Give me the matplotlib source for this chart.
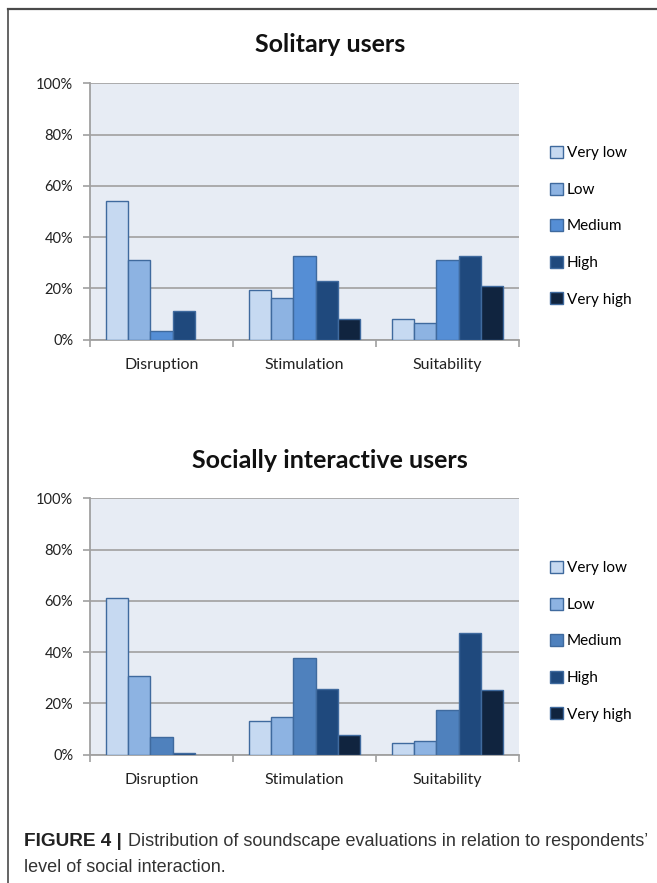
import matplotlib
matplotlib.use("Agg")
import matplotlib.pyplot as plt
from matplotlib.patches import Patch
from matplotlib.lines import Line2D
import numpy as np

categories = ["Disruption", "Stimulation", "Suitability"]
levels = ["Very low", "Low", "Medium", "High", "Very high"]

# percentages, one list per level, ordered like categories
solitary = {
    "Very low": [54, 19.5, 8.2],
    "Low": [31, 16.1, 6.5],
    "Medium": [3.4, 32.8, 31.1],
    "High": [11.3, 22.9, 32.8],
    "Very high": [0, 8.2, 21.1],
}
social = {
    "Very low": [61.1, 13.3, 4.6],
    "Low": [30.7, 14.8, 5.3],
    "Medium": [6.9, 37.7, 17.3],
    "High": [0.7, 25.7, 47.3],
    "Very high": [0, 7.8, 25.1],
}
titles = ["Solitary users", "Socially interactive users"]
yticks = [0, 20, 40, 60, 80, 100]
ytick_labels = ["0%", "20%", "40%", "60%", "80%", "100%"]

colors_top = ["#C6D9F1", "#8DB3E2", "#558ED5", "#1F497D", "#10243F"]
colors_bot = ["#C6D9F1", "#8DB3E2", "#4F81BD", "#1F497D", "#10243F"]
edge = "#3F6A9E"

W, H = 657, 883
fig = plt.figure(figsize=(W / 100, H / 100), dpi=100)
fig.patch.set_facecolor("white")

# frame lines
fig.add_artist(Line2D([7.5 / W, 1.0], [1 - 8.5 / H, 1 - 8.5 / H], color="#4a4a4a", lw=1.6))
fig.add_artist(Line2D([7.5 / W, 7.5 / W], [0, 1 - 8.5 / H], color="#4a4a4a", lw=1.2))

FONT = "Lato"

def make_panel(top_px, bot_px, data, colors, title, title_y, leg_top):
    ax = fig.add_axes([90 / W, 1 - bot_px / H, 429 / W, (bot_px - top_px) / H])
    ax.set_facecolor("#E7ECF4")
    x = np.arange(len(categories))
    w = 0.155
    for i, lev in enumerate(levels):
        vals = data[lev]
        lws = [1.0 if v > 0 else 0.0 for v in vals]
        ax.bar(x + (i - 2) * w, vals, width=w, color=colors[i],
               edgecolor=edge, linewidth=lws, zorder=3, label=lev)
    ax.set_xlim(-0.5, 2.5)
    ax.set_ylim(0, 100)
    ax.set_yticks(yticks)
    ax.set_yticklabels(ytick_labels, fontsize=10.5, family=FONT, color="#222222")
    ax.yaxis.grid(True, color="#A6A6A6", lw=1.3, zorder=1)
    ax.set_axisbelow(True)
    for s in ["top", "right"]:
        ax.spines[s].set_visible(False)
    for s in ["left", "bottom"]:
        ax.spines[s].set_color("#A0A0A0")
        ax.spines[s].set_linewidth(1.3)
    ax.tick_params(axis="y", length=5, color="#A0A0A0", width=1.2, pad=7)
    ax.set_xticks([-0.5, 0.5, 1.5, 2.5])
    ax.set_xticklabels([])
    ax.set_xticks(x, minor=True)
    ax.set_xticklabels(categories, minor=True, fontsize=11.5, family=FONT, color="#222222")
    ax.tick_params(axis="x", which="major", length=5, color="#A0A0A0", width=1.2)
    ax.tick_params(axis="x", which="minor", length=0, pad=13)
    fig.text(330 / W, 1 - title_y / H, title, ha="center", va="center",
             fontsize=18, fontweight="bold", family=FONT, color="#111111")
    handles = [Patch(facecolor=colors[i], edgecolor=edge, lw=1.0) for i in range(5)]
    fig.legend(handles, levels, loc="upper left",
               bbox_to_anchor=(550 / W, 1 - leg_top / H), frameon=False,
               prop={"family": FONT, "size": 11}, handlelength=0.85, handleheight=0.85,
               handletextpad=0.25, labelspacing=1.45, borderaxespad=0, borderpad=0)
    return ax

make_panel(83.3, 339.7, solitary, colors_top, titles[0], 44, 146)
make_panel(498.3, 754.7, social, colors_bot, titles[1], 460, 561)

# caption
cap_font = "Liberation Sans"
bold_txt = "FIGURE 4 |"
reg1 = "Distribution of soundscape evaluations in relation to respondents\u2019"
reg2 = "level of social interaction."

def fitted_size(text, target_w, weight="normal"):
    t = fig.text(0, 0, text, fontsize=10, fontweight=weight, family=cap_font)
    r = fig.canvas.get_renderer()
    wpx = t.get_window_extent(renderer=r).width
    t.remove()
    return 10 * target_w / wpx

fig.canvas.draw()
bsz = fitted_size(bold_txt, 98, "bold")
rsz = fitted_size(reg1, 520)
fig.text(24 / W, 1 - 842 / H, bold_txt, fontsize=bsz, fontweight="bold",
         family=cap_font, va="center", ha="left", color="#222222")
fig.text(128 / W, 1 - 842 / H, reg1, fontsize=rsz, family=cap_font,
         va="center", ha="left", color="#333333")
fig.text(24 / W, 1 - 867 / H, reg2, fontsize=rsz, family=cap_font,
         va="center", ha="left", color="#333333")

fig.savefig("out.png", dpi=100)
